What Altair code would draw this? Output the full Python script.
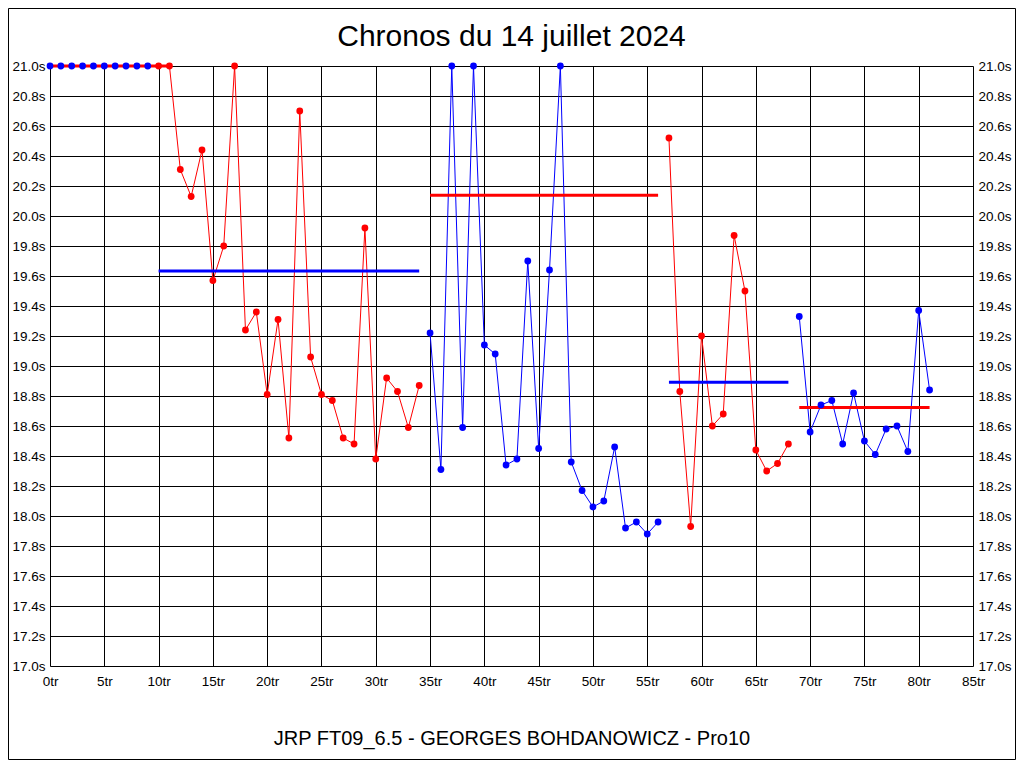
import altair as alt
import pandas as pd

RED = "#ff0000"
BLUE = "#0000ff"
FONT = "Liberation Sans"

# ---- data ----
laps = list(range(0, 82))
times = [
    21.0, 21.0, 21.0, 21.0, 21.0, 21.0, 21.0, 21.0, 21.0, 21.0,      # 0-9
    21.0, 21.0, 20.31, 20.13, 20.44, 19.57, 19.80, 21.0, 19.24, 19.36,  # 10-19
    18.81, 19.31, 18.52, 20.70, 19.06, 18.81, 18.77, 18.52, 18.48, 19.92,  # 20-29
    18.38, 18.92, 18.83, 18.59, 18.87,                              # 30-34
    19.22, 18.31, 21.0, 18.59, 21.0, 19.14, 19.08, 18.34, 18.38, 19.70,  # 35-44
    18.45, 19.64, 21.0, 18.36, 18.17, 18.06, 18.10, 18.46, 17.92, 17.96,  # 45-54
    17.88, 17.96,                                                   # 55-56
    20.52, 18.83, 17.93, 19.20, 18.60, 18.68, 19.87, 19.50, 18.44, 18.30,  # 57-66
    18.35, 18.48,                                                   # 67-68
    19.33, 18.56, 18.74, 18.77, 18.48, 18.82, 18.50, 18.41, 18.58, 18.60,  # 69-78
    18.43, 19.37, 18.84,                                            # 79-81
]
seg_start = [0, 35, 57, 69]
seg_end = [34, 56, 68, 81]
avg_start = [10, 35, 57, 69]
avg_end = [34, 56, 68, 81]
avg_value = [19.633, 20.138, 18.891, 18.724]
excluded_laps = list(range(0, 10))   # laps drawn with blue dots in 1st stint
capped_laps = list(range(0, 12))     # laps drawn at the 21.0s cap (thick line)

x_ticks = [0, 5, 10, 15, 20, 25, 30, 35, 40, 45, 50, 55, 60, 65, 70, 75, 80, 85]
y_ticks = [17.0, 17.2, 17.4, 17.6, 17.8, 18.0, 18.2, 18.4, 18.6, 18.8, 19.0,
           19.2, 19.4, 19.6, 19.8, 20.0, 20.2, 20.4, 20.6, 20.8, 21.0]

title_text = "Chronos du 14 juillet 2024"
footer_text = "JRP FT09_6.5 - GEORGES BOHDANOWICZ - Pro10"

# ---- tables ----
def seg_of(lap):
    for i, (s, e) in enumerate(zip(seg_start, seg_end)):
        if s <= lap <= e:
            return i + 1
    return 0

df = pd.DataFrame({"lap": laps, "time": times})
df["seg"] = df["lap"].map(seg_of).astype(str)
df["pgroup"] = [("0" if l in excluded_laps else s) for l, s in zip(df["lap"], df["seg"])]
cap_df = df[df["lap"].isin(capped_laps)]

avg_df = pd.DataFrame({
    "start": avg_start, "end": avg_end, "value": avg_value,
    "seg": [str(i + 1) for i in range(len(avg_start))],
})
title_df = pd.DataFrame({"t": [title_text]})

W, H = 923, 600
PAD = {"left": 42, "top": 58, "right": 43, "bottom": 94}

xscale = alt.Scale(domain=[0, 85], nice=False, zero=False)
yscale = alt.Scale(domain=[17.0, 21.0], nice=False, zero=False)

x_axis = alt.Axis(
    values=x_ticks, labelExpr="datum.value + 'tr'", grid=True, gridColor="black",
    gridOpacity=1, gridWidth=1, ticks=False, domain=False, labelFont=FONT,
    labelFontSize=13.5, labelColor="black", labelPadding=8, labelFlush=False,
    title=footer_text, titleFont=FONT, titleFontSize=20, titleFontWeight="normal",
    titleColor="black", titlePadding=41,
)
y_axis_left = alt.Axis(
    values=y_ticks, labelExpr="format(datum.value, '.1f') + 's'", grid=True,
    gridColor="black", gridOpacity=1, gridWidth=1, ticks=False, domain=False,
    labelFont=FONT, labelFontSize=13.5, labelColor="black", labelPadding=5,
    labelFlush=False, title=None, orient="left",
)
y_axis_right = alt.Axis(
    values=y_ticks, labelExpr="format(datum.value, '.1f') + 's'", grid=False,
    ticks=False, domain=False, labelFont=FONT, labelFontSize=13.5,
    labelColor="black", labelPadding=5, labelFlush=False, title=None,
    orient="right",
)

X = alt.X("lap:Q", scale=xscale, axis=x_axis)
Y = alt.Y("time:Q", scale=yscale, axis=y_axis_left)

seg_color = alt.Color("seg:N", scale=alt.Scale(domain=["1", "2", "3", "4"],
                                               range=[RED, BLUE, RED, BLUE]), legend=None)
pt_color = alt.Color("pgroup:N", scale=alt.Scale(domain=["0", "1", "2", "3", "4"],
                                                 range=[BLUE, RED, BLUE, RED, BLUE]), legend=None)
avg_color = alt.Color("seg:N", scale=alt.Scale(domain=["1", "2", "3", "4"],
                                               range=[BLUE, RED, BLUE, RED]), legend=None)

base = alt.Chart(df)

lines = base.mark_line(strokeWidth=1, clip=True).encode(x=X, y=Y, color=seg_color, detail="seg:N")
cap = alt.Chart(cap_df).mark_line(strokeWidth=3, color=RED).encode(x=X, y=Y)
points = base.mark_point(filled=True, size=46, opacity=1, shape="circle").encode(
    x=X, y=Y, color=pt_color)
avgs = alt.Chart(avg_df).mark_rule(strokeWidth=3).encode(
    x=alt.X("start:Q", scale=xscale, axis=x_axis),
    x2="end:Q",
    y=alt.Y("value:Q", scale=yscale, axis=y_axis_left),
    color=avg_color,
)

main = alt.layer(lines, cap, avgs, points).resolve_scale(color="independent")

right = base.mark_point(opacity=0).encode(
    x=X, y=alt.Y("time:Q", scale=yscale, axis=y_axis_right))

title_mark = alt.Chart(title_df).mark_text(
    font=FONT, fontSize=30, color="black", align="center", baseline="alphabetic"
).encode(text="t:N", x=alt.value(W / 2), y=alt.value(-20))

frame = alt.Chart(title_df).mark_rect(fill=None, stroke="black", strokeWidth=1).encode(
    x=alt.value(-PAD["left"] + 0.5), x2=alt.value(W + PAD["right"] - 0.5),
    y=alt.value(-PAD["top"] + 0.5), y2=alt.value(H + PAD["bottom"] - 0.5),
)

chart = alt.layer(main, right, title_mark, frame).resolve_scale(y="independent").properties(
    width=W, height=H,
    autosize=alt.AutoSizeParams(type="none"),
    padding=PAD,
).configure_view(stroke="black", strokeWidth=1).configure(background="white")

chart.save("out.html", embed_options={"renderer": "svg", "actions": False})
